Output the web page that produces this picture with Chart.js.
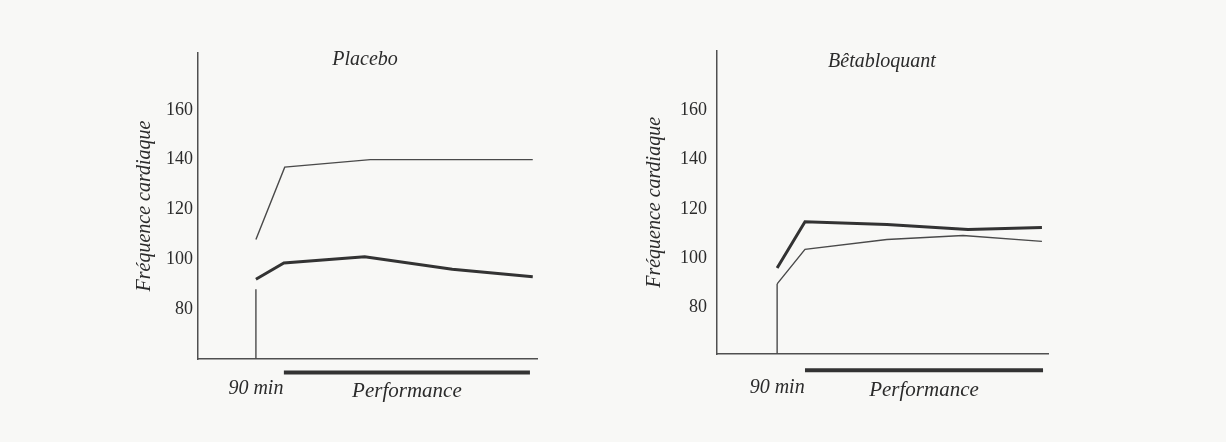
<!DOCTYPE html>
<html>
<head>
<meta charset="utf-8">
<script src="https://cdn.jsdelivr.net/npm/chart.js@4"></script>
<style>
    html, body { margin: 0; padding: 0; }
    body { width: 1226px; height: 442px; background: #f8f8f6; position: relative; overflow: hidden; }
    .panel { position: absolute; top: 30px; width: 420px; height: 380px; }
</style>
</head>
<body>
<div class="panel" style="left:130px"><canvas id="placeboChart"></canvas></div>
<div class="panel" style="left:640px"><canvas id="betaChart"></canvas></div>
<script>
// Data (x = position along the time axis, arbitrary units 0..12)
const yTicks = [80, 100, 120, 140, 160];

// Placebo
const placeboMarkX = 2.05;
const placeboMarkTop = 88;
const placeboThinX = [2.05, 3.07, 6.1, 11.85];
const placeboThinY = [108, 137, 140, 140];
const placeboThickX = [2.05, 3.04, 5.9, 9.0, 11.85];
const placeboThickY = [92, 98.5, 101, 96, 93];
const placeboPerf = [3.04, 11.75];

// Bêtabloquant
const betaMarkX = 2.18;
const betaThinX = [2.18, 3.19, 6.16, 8.92, 11.78];
const betaThinY = [89.6, 103.6, 107.6, 109.2, 106.8];
const betaThickX = [2.18, 3.19, 6.16, 9.1, 11.78];
const betaThickY = [96, 114.8, 113.6, 111.6, 112.4];
const betaPerf = [3.19, 11.82];

const perfLevel = 54.6;
const ink = '#2b2b2b';
const serif = '"Liberation Serif", "DejaVu Serif", serif';

function pts(xs, ys) {
    return xs.map((x, i) => ({ x: x, y: ys[i] }));
}

// Draws the panel title and the labels under the x axis
const textPlugin = {
    id: 'panelText',
    afterDraw(chart, args, opts) {
        const c = chart.ctx;
        const xs = chart.scales.x;
        c.save();
        c.fillStyle = ink;
        c.textAlign = 'center';
        c.textBaseline = 'middle';
        c.font = 'italic 20px ' + serif;
        c.fillText(opts.title, chart.chartArea.left + opts.titleDx, opts.titleY);
        c.fillText('90 min', xs.getPixelForValue(opts.markX), opts.labelY);
        c.font = 'italic 21px ' + serif;
        c.fillText('Performance', xs.getPixelForValue((opts.perf[0] + opts.perf[1]) / 2), opts.labelY + 2);
        c.restore();
    }
};

function makeChart(id, cfg) {
    return new Chart(document.getElementById(id), {
        type: 'line',
        data: {
            datasets: [
                {
                    data: pts(cfg.thinX, cfg.thinY),
                    borderColor: '#4a4a4a', borderWidth: 1.4, pointRadius: 0
                },
                {
                    data: pts(cfg.thickX, cfg.thickY),
                    borderColor: '#333', borderWidth: 3, pointRadius: 0
                },
                {
                    // vertical marker at 90 min
                    data: pts([cfg.markX, cfg.markX], [60, cfg.markTop]),
                    borderColor: '#4a4a4a', borderWidth: 1.4, pointRadius: 0
                },
                {
                    // performance bar under the axis
                    data: pts(cfg.perf, [perfLevel, perfLevel]),
                    borderColor: '#333', borderWidth: 4, pointRadius: 0, clip: false
                }
            ]
        },
        options: {
            responsive: true,
            maintainAspectRatio: false,
            animation: false,
            layout: { padding: { top: cfg.padTop, right: cfg.padRight, left: 0, bottom: 0 } },
            plugins: {
                legend: { display: false },
                tooltip: { enabled: false },
                panelText: {
                    title: cfg.title, titleDx: cfg.titleDx, titleY: cfg.titleY,
                    markX: cfg.markX, perf: cfg.perf, labelY: cfg.labelY
                }
            },
            scales: {
                x: {
                    type: 'linear', min: 0, max: 12,
                    grid: { display: false, drawTicks: false },
                    border: { color: '#505050', width: 1.5 },
                    ticks: { display: false },
                    afterFit: (s) => { s.height = cfg.xHeight; }
                },
                y: {
                    min: cfg.yMin, max: cfg.yMax,
                    grid: { display: false, drawTicks: false },
                    border: { color: '#505050', width: 1.5 },
                    afterBuildTicks: (s) => { s.ticks = yTicks.map(v => ({ value: v })); },
                    ticks: {
                        padding: cfg.tickPad, color: ink,
                        font: { family: serif, size: 18 }
                    },
                    title: {
                        display: true, text: 'Fréquence cardiaque', color: ink,
                        font: { family: serif, size: 20, style: 'italic' },
                        padding: { top: 3, bottom: 0 }
                    },
                    afterFit: (s) => { s.width = cfg.yWidth; }
                }
            }
        },
        plugins: [textPlugin]
    });
}

makeChart('placeboChart', {
    title: 'Placebo', titleDx: 167, titleY: 30,
    thinX: placeboThinX, thinY: placeboThinY,
    thickX: placeboThickX, thickY: placeboThickY,
    markX: placeboMarkX, markTop: placeboMarkTop, perf: placeboPerf,
    yMin: 60, yMax: 182.8, yWidth: 68, xHeight: 51,
    padTop: 23, padRight: 13, tickPad: 5, labelY: 359
});

makeChart('betaChart', {
    title: 'Bêtabloquant', titleDx: 165, titleY: 32,
    thinX: betaThinX, thinY: betaThinY,
    thickX: betaThickX, thickY: betaThickY,
    markX: betaMarkX, markTop: betaThinY[0], perf: betaPerf,
    yMin: 61.2, yMax: 184, yWidth: 77, xHeight: 56,
    padTop: 18, padRight: 12, tickPad: 10, labelY: 358
});
</script>
</body>
</html>
